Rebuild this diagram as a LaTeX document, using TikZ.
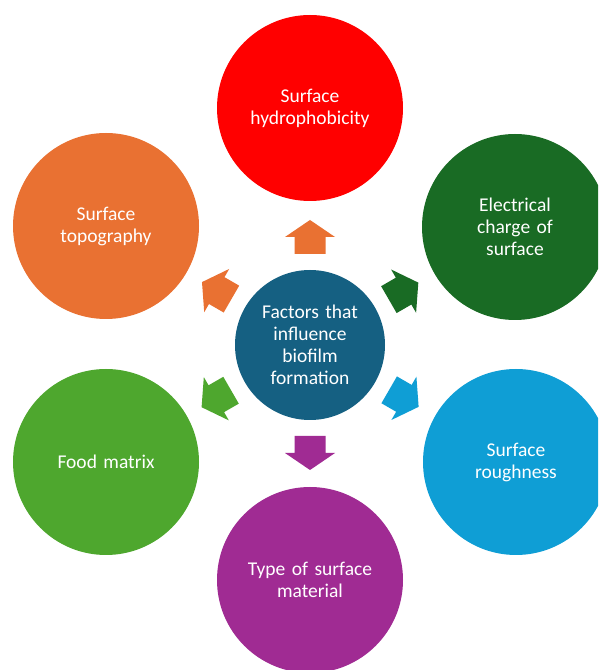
\documentclass[tikz,border=0pt]{standalone}
\usepackage{fontspec}
\setmainfont{Carlito}[WordSpace={0.6,0,0}]
\usetikzlibrary{calc}
\definecolor{cteal}{HTML}{156082}
\definecolor{cred}{HTML}{FF0000}
\definecolor{corange}{HTML}{E97132}
\definecolor{cdgreen}{HTML}{196B24}
\definecolor{cblue}{HTML}{0F9ED5}
\definecolor{cpurple}{HTML}{A02B93}
\definecolor{clgreen}{HTML}{4EA72E}
\tikzset{
  bubble/.style={circle, inner sep=0pt, minimum size=186pt, text=white, align=center,
    font=\fontsize{19.5}{22}\selectfont, text width=150pt},
  hub/.style={circle, inner sep=0pt, minimum size=150pt, fill=cteal, text=white, align=center,
    font=\fontsize{19.5}{22}\selectfont, text width=120pt},
  barrow/.pic={\path[pic actions] (-17,-15.5) -- (0,-15.5) -- (0,-25) -- (17,0) -- (0,25) -- (0,15.5) -- (-17,15.5) -- cycle;}
}
\begin{document}
\begin{tikzpicture}[x=1pt,y=1pt]
\useasboundingbox (0,0) rectangle (598,670);
\clip (0,0) rectangle (598,670);
\fill[white] (0,0) rectangle (598,670);
\node[hub] (C) at (310,325) {Factors that\\influence\\biofilm\\formation};
\node[bubble, fill=cred] (T) at (310,562) {Surface\\hydrophobicity\\[6pt]};
\node[bubble, fill=corange] (TL) at (106,444) {Surface\\topography\\[6pt]};
\node[bubble, fill=cdgreen] (TR) at (515,443) {Electrical\\charge of\\surface};
\node[bubble, fill=cblue] (BR) at (516,208) {Surface\\roughness};
\node[bubble, fill=clgreen] (BL) at (106,208) {Food matrix};
\node[bubble, fill=cpurple] (B) at (310,90) {Type of surface\\material\\[6pt]};
\pic[fill=corange, rotate=90] (aT) at ($(C)!108pt!(T)$) {barrow};
\pic[fill=corange, rotate=150] (aTL) at ($(C)!108pt!(TL)$) {barrow};
\pic[fill=cdgreen, rotate=30] (aTR) at ($(C)!108pt!(TR)$) {barrow};
\pic[fill=cblue, rotate=-30] (aBR) at ($(C)!108pt!(BR)$) {barrow};
\pic[fill=clgreen, rotate=-150] (aBL) at ($(C)!108pt!(BL)$) {barrow};
\pic[fill=cpurple, rotate=-90] (aB) at ($(C)!108pt!(B)$) {barrow};
\end{tikzpicture}
\end{document}
